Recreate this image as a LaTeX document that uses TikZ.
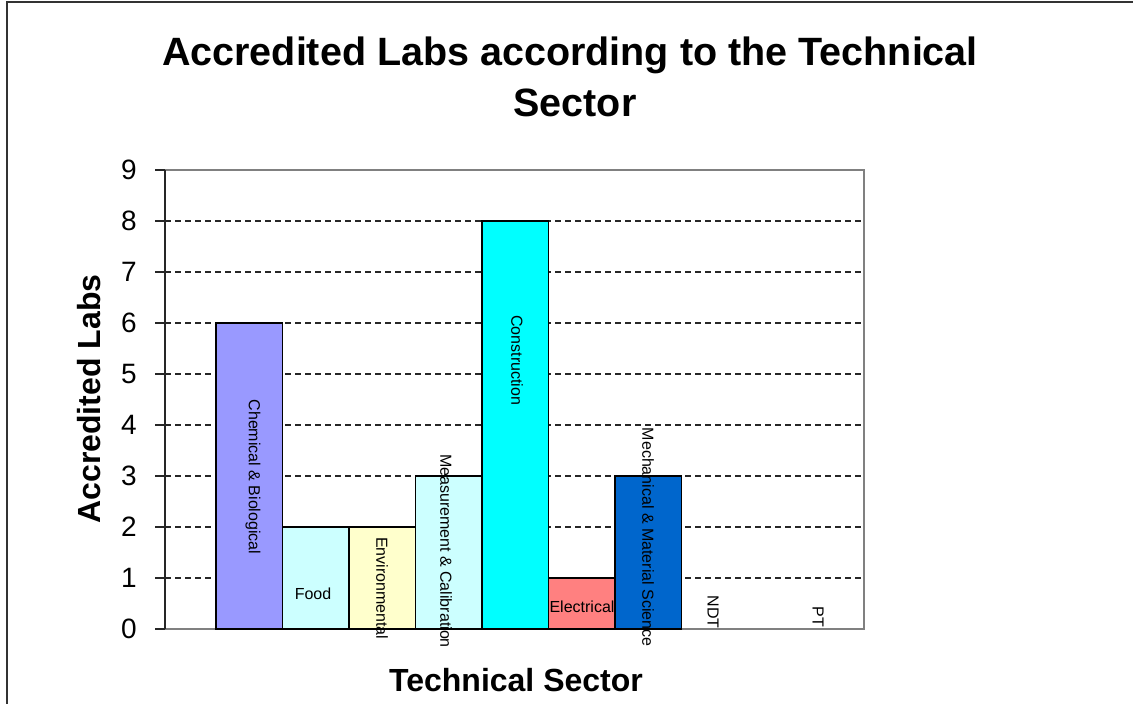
\documentclass[tikz,border=0pt]{standalone}
\usepackage{fontspec}
\setmainfont{Liberation Sans}

\definecolor{chembar}{HTML}{9999FF}
\definecolor{foodbar}{HTML}{CCFFFF}
\definecolor{envbar}{HTML}{FFFFCC}
\definecolor{constbar}{HTML}{00FFFF}
\definecolor{elecbar}{HTML}{FF8080}
\definecolor{mechbar}{HTML}{0066CC}

\tikzset{
    bar/.style={draw=black, line width=1.3pt},
    grid line/.style={dash pattern=on 6pt off 4pt, line width=1.2pt, black!85},
    axis line/.style={line width=1.3pt, black!85},
    tick label/.style={anchor=east, inner sep=0pt, font=\fontsize{28}{28}\selectfont},
    bar label/.style={inner sep=0pt, font=\fontsize{16}{16}\selectfont},
    axis title/.style={inner sep=0pt, font=\fontsize{32}{32}\selectfont\bfseries},
}

\begin{document}
\begin{tikzpicture}[x=1pt, y=1pt]
    \useasboundingbox (0,0) rectangle (1133,704);
    \fill[white] (0,0) rectangle (1133,704);

    % outer frame (cut off at right and bottom)
    \draw[line width=2pt, black!80] (7,0) -- (7,702) -- (1133,702);

    \node (title) at (570,627) [align=center, font=\fontsize{39.5}{51}\selectfont\bfseries]
        {Accredited Labs according to the Technical\\\hspace*{10pt}Sector};

    \node (ylabel) at (89,305) [axis title, rotate=90] {Accredited Labs};
    \node (xlabel) at (516,24) [axis title] {Technical Sector};

    \begin{scope}[shift={(165,75)}, y=51pt]
        % plot area and grid
        \draw[gray, line width=1.2pt] (0,0) rectangle (699,9);
        \draw[grid line] (0,1) -- (699,1);
        \draw[grid line] (0,2) -- (699,2);
        \draw[grid line] (0,3) -- (699,3);
        \draw[grid line] (0,4) -- (699,4);
        \draw[grid line] (0,5) -- (699,5);
        \draw[grid line] (0,6) -- (699,6);
        \draw[grid line] (0,7) -- (699,7);
        \draw[grid line] (0,8) -- (699,8);

        % value axis
        \draw[axis line] (0,0) -- (0,9);
        \draw[axis line] (-10,0) -- (0,0);
        \draw[axis line] (-10,1) -- (0,1);
        \draw[axis line] (-10,2) -- (0,2);
        \draw[axis line] (-10,3) -- (0,3);
        \draw[axis line] (-10,4) -- (0,4);
        \draw[axis line] (-10,5) -- (0,5);
        \draw[axis line] (-10,6) -- (0,6);
        \draw[axis line] (-10,7) -- (0,7);
        \draw[axis line] (-10,8) -- (0,8);
        \draw[axis line] (-10,9) -- (0,9);

        \node (tick0) at (-28,0) [tick label] {0};
        \node (tick1) at (-28,1) [tick label] {1};
        \node (tick2) at (-28,2) [tick label] {2};
        \node (tick3) at (-28,3) [tick label] {3};
        \node (tick4) at (-28,4) [tick label] {4};
        \node (tick5) at (-28,5) [tick label] {5};
        \node (tick6) at (-28,6) [tick label] {6};
        \node (tick7) at (-28,7) [tick label] {7};
        \node (tick8) at (-28,8) [tick label] {8};
        \node (tick9) at (-28,9) [tick label] {9};

        % bars
        \filldraw[bar, fill=chembar] (51,0) rectangle (117.5,6);
        \filldraw[bar, fill=foodbar] (117.5,0) rectangle (184,2);
        \filldraw[bar, fill=envbar] (184,0) rectangle (250.5,2);
        \filldraw[bar, fill=foodbar] (250.5,0) rectangle (317,3);
        \filldraw[bar, fill=constbar] (317,0) rectangle (383.5,8);
        \filldraw[bar, fill=elecbar] (383.5,0) rectangle (450,1);
        \filldraw[bar, fill=mechbar] (450,0) rectangle (516.5,3);

        % series labels
        \node (chem) at (88,2.98) [bar label, rotate=-90] {Chemical \& Biological};
        \node (food) at (148,0.7) [bar label] {Food};
        \node (env) at (217,0.8) [bar label, rotate=-90] {Environmental};
        \node (meas) at (281,1.53) [bar label, rotate=-90] {Measurement \& Calibration};
        \node (constr) at (352,5.27) [bar label, rotate=-90] {Construction};
        \node (elec) at (417,0.43) [bar label] {Electrical};
        \node (mech) at (483,1.8) [bar label, rotate=-90] {Mechanical \& Material Science};
        \node (ndt) at (548,0.33) [bar label, rotate=-90] {NDT};
        \node (pt) at (653,0.24) [bar label, rotate=-90] {PT};
    \end{scope}
\end{tikzpicture}
\end{document}
